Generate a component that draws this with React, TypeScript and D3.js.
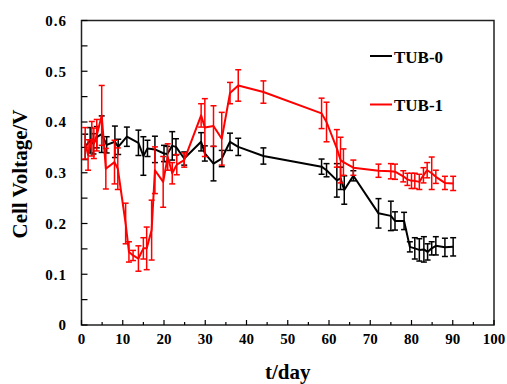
import React from "react";
import * as d3 from "d3";

// TUB-0 (black)
const tub0Days = [0.9, 2.1, 2.9, 3.7, 4.9, 6.1, 8.1, 8.9, 11, 13.8, 15, 16, 17.8, 20, 20.8, 22, 22.9, 24.9, 29, 29.9, 32, 34, 36, 38, 44.1, 58.2, 59.4, 61.9, 62.8, 63.7, 65.9, 72, 75, 76, 78.2, 79.6, 80.8, 81.9, 83, 83.9, 84.9, 85.9, 88.1, 90.1];
const tub0Volt = [0.351, 0.364, 0.357, 0.37, 0.376, 0.355, 0.361, 0.351, 0.371, 0.359, 0.333, 0.348, 0.346, 0.338, 0.337, 0.353, 0.351, 0.328, 0.361, 0.338, 0.318, 0.328, 0.361, 0.351, 0.333, 0.312, 0.305, 0.285, 0.289, 0.266, 0.294, 0.22, 0.215, 0.205, 0.205, 0.154, 0.151, 0.148, 0.149, 0.144, 0.151, 0.156, 0.153, 0.154];
const tub0Err = [0.025, 0.025, 0.02, 0.021, 0.036, 0.016, 0.031, 0.015, 0.019, 0.025, 0.038, 0.016, 0.026, 0.016, 0.015, 0.028, 0.016, 0.013, 0.018, 0.015, 0.034, 0.016, 0.017, 0.017, 0.016, 0.015, 0.013, 0.033, 0.022, 0.028, 0.01, 0.029, 0.029, 0.018, 0.017, 0.01, 0.021, 0.022, 0.025, 0.016, 0.013, 0.018, 0.018, 0.018];

// TUB-1 (red)
const tub1Days = [0.9, 1.6, 2.5, 3, 3.7, 4.9, 5.9, 8, 8.8, 10.7, 11.5, 12.5, 13.8, 15, 15.8, 17, 17.8, 19.8, 20.9, 22, 23.1, 24.9, 29, 29.9, 32, 34, 36, 38, 44.1, 58.2, 59.4, 61.9, 62.8, 63.5, 65.9, 72, 75, 76, 78, 79, 80, 80.8, 81.9, 82.9, 83.8, 84.9, 85.9, 88.1, 90.1];
const tub1Volt = [0.358, 0.335, 0.367, 0.358, 0.374, 0.413, 0.308, 0.321, 0.308, 0.2, 0.144, 0.137, 0.131, 0.151, 0.151, 0.187, 0.305, 0.282, 0.331, 0.299, 0.316, 0.325, 0.413, 0.389, 0.392, 0.367, 0.457, 0.472, 0.459, 0.417, 0.4, 0.348, 0.325, 0.321, 0.31, 0.304, 0.303, 0.302, 0.293, 0.287, 0.284, 0.284, 0.282, 0.295, 0.305, 0.299, 0.292, 0.28, 0.279];
const tub1Err = [0.031, 0.03, 0.034, 0.03, 0.031, 0.059, 0.04, 0.043, 0.041, 0.04, 0.02, 0.01, 0.025, 0.021, 0.042, 0.059, 0.046, 0.05, 0.026, 0.021, 0.02, 0.014, 0.023, 0.057, 0.04, 0.052, 0.021, 0.031, 0.022, 0.03, 0.039, 0.037, 0.045, 0.026, 0.015, 0.013, 0.015, 0.015, 0.011, 0.012, 0.015, 0.015, 0.015, 0.015, 0.015, 0.032, 0.013, 0.013, 0.014];

const xTicks = d3.range(0, 101, 5);
const yTicks = d3.range(0, 0.601, 0.05);

const width = 507;
const height = 384;
const margin = { left: 81.5, right: 13, top: 20.5, bottom: 59 };
const font = "Liberation Serif, Times New Roman, serif";

const App = () => {
  const x = d3.scaleLinear().domain([0, 100]).range([margin.left, width - margin.right]);
  const y = d3.scaleLinear().domain([0, 0.6]).range([height - margin.bottom, margin.top]);

  const series = [
    { name: "TUB-0", color: "#000000", days: tub0Days, volt: tub0Volt, err: tub0Err, ly: 56 },
    { name: "TUB-1", color: "#ff0000", days: tub1Days, volt: tub1Volt, err: tub1Err, ly: 104.5 },
  ];

  const line = d3
    .line<number[]>()
    .x((d) => d[0])
    .y((d) => d[1]);

  const [x0, x1] = x.range();
  const [y0, y1] = y.range();

  return (
    <svg width={width} height={height} style={{ position: "absolute", left: 0, top: 0 }} fontFamily={font}>
      <rect x={0} y={0} width={width} height={height} fill="#fff" />
      {/* frame */}
      <rect x={x0} y={y1} width={x1 - x0} height={y0 - y1} fill="none" stroke="#222" strokeWidth={1.5} />
      {/* x ticks */}
      {xTicks.map((t) => (
        <g key={"x" + t}>
          <line x1={x(t)} x2={x(t)} y1={y0} y2={y0 - (t % 10 === 0 ? 5 : 3)} stroke="#000" strokeWidth={1.2} />
          {t % 10 === 0 && (
            <text x={x(t)} y={343.5} textAnchor="middle" fontSize={15} fontWeight="bold">
              {t}
            </text>
          )}
        </g>
      ))}
      {/* y ticks */}
      {yTicks.map((t, i) => (
        <g key={"y" + i}>
          <line x1={x0} x2={x0 + 6} y1={y(t)} y2={y(t)} stroke="#000" strokeWidth={1.2} />
          {i % 2 === 0 && (
            <text x={67} y={y(t)} dy="0.35em" textAnchor="end" fontSize={15} fontWeight="bold" letterSpacing={1}>
              {i === 0 ? "0" : d3.format(".1f")(t)}
            </text>
          )}
        </g>
      ))}
      {/* axis titles */}
      <text x={(x0 + x1) / 2} y={379} textAnchor="middle" fontSize={21} fontWeight="bold">
        t/day
      </text>
      <text transform={`translate(27,174) rotate(-90)`} textAnchor="middle" fontSize={21} fontWeight="bold">
        Cell Voltage/V
      </text>
      {/* series */}
      {series.map((s) => (
        <g key={s.name}>
          {s.days.map((d, i) => {
            const cx = x(d);
            const top = y(s.volt[i] + s.err[i]);
            const bot = y(s.volt[i] - s.err[i]);
            return (
              <g key={i} stroke={s.color} strokeWidth={1.5}>
                <line x1={cx} x2={cx} y1={top} y2={bot} />
                <line x1={cx - 3} x2={cx + 3} y1={top} y2={top} />
                <line x1={cx - 3} x2={cx + 3} y1={bot} y2={bot} />
              </g>
            );
          })}
          <path
            d={line(s.days.map((d, i) => [x(d), y(s.volt[i])])) || ""}
            fill="none"
            stroke={s.color}
            strokeWidth={2}
            strokeLinejoin="round"
          />
          {/* legend */}
          <line x1={370} x2={392} y1={s.ly} y2={s.ly} stroke={s.color} strokeWidth={2} />
          <text x={394} y={s.ly + 6.5} fontSize={17} fontWeight="bold">
            {s.name}
          </text>
        </g>
      ))}
    </svg>
  );
};

export default App;
